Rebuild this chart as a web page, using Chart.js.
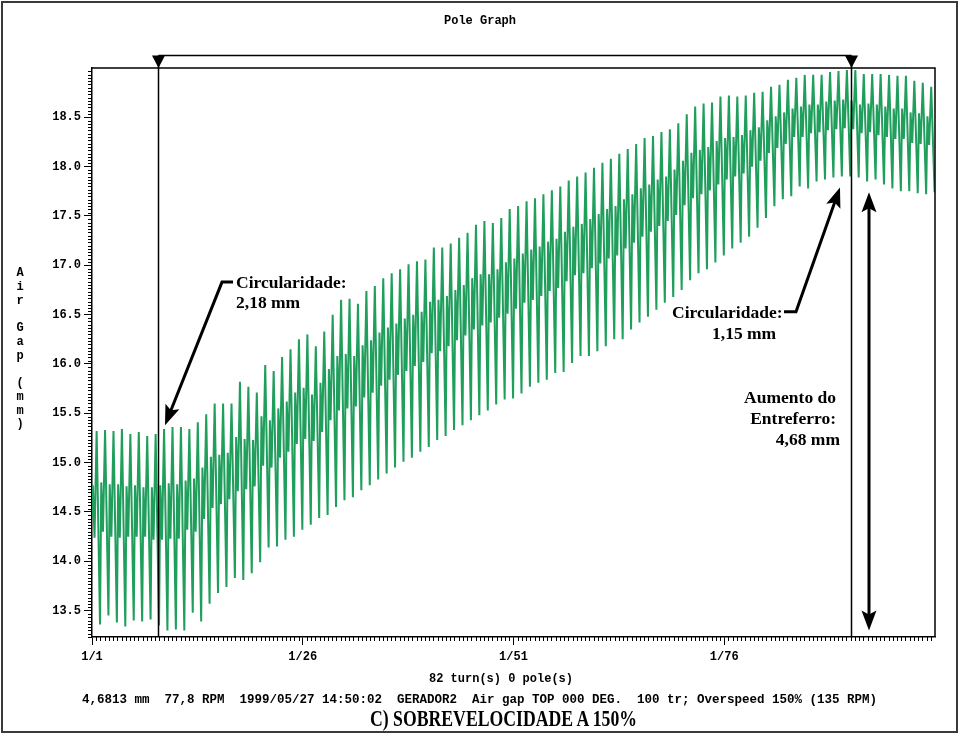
<!DOCTYPE html>
<html><head><meta charset="utf-8">
<script src="https://cdn.jsdelivr.net/npm/chart.js@4.4.1/dist/chart.umd.min.js"></script>
<style>
html,body{margin:0;padding:0;background:#fff;}
#wrap{position:relative;width:960px;height:735px;overflow:hidden;background:#fff;}
#frame{position:absolute;left:1px;top:1px;width:957px;height:732px;box-sizing:border-box;border:2px solid #3a3a3a;pointer-events:none;}
canvas{position:absolute;left:0;top:0;}
.mono{font-family:"Liberation Mono","DejaVu Sans Mono",monospace;font-size:12px;font-weight:bold;color:#000;position:absolute;white-space:pre;line-height:14px;}
.serif{font-family:"Liberation Serif","Times New Roman",serif;font-weight:bold;font-size:17.5px;color:#000;position:absolute;white-space:pre;line-height:21px;}
</style></head>
<body>
<div id="wrap">
<canvas id="c" width="960" height="735"></canvas>
<div id="frame"></div>
<div class="mono" style="left:0;width:960px;text-align:center;top:14px">Pole Graph</div>
<div class="mono" style="left:14px;width:12px;text-align:center;top:267px;line-height:13.75px">A
i
r
 
G
a
p
 
(
m
m
)</div>
<div class="mono" style="left:0;width:1002px;text-align:center;top:672px">82 turn(s) 0 pole(s)</div>
<div class="mono" style="left:0;width:959px;text-align:center;top:693px;font-size:12.5px">4,6813 mm  77,8 RPM  1999/05/27 14:50:02  GERADOR2  Air gap TOP 000 DEG.  100 tr; Overspeed 150% (135 RPM)</div>
<div id="cap" class="serif" style="font-size:23px;left:370px;top:706px;line-height:25px;transform-origin:0 0;display:inline-block">C) SOBREVELOCIDADE A 150%</div>
<div class="serif" style="left:236px;top:272px;line-height:20px">Circularidade:
2,18 mm</div>
<div class="serif" style="left:672px;top:302px">Circularidade:</div>
<div class="serif" style="left:712px;top:323px">1,15 mm</div>
<div class="serif" style="left:636px;width:200px;text-align:right;top:387px">Aumento do
Entreferro:
<span style="margin-right:-4px">4,68 mm</span></div>
</div>
<script>
// ---- data ----
const totalTurns = 100;
const xTickValues = [0, 25, 50, 75];
const xTickLabels = ['1/1', '1/26', '1/51', '1/76'];
const yTickLabels = ['13.5','14.0','14.5','15.0','15.5','16.0','16.5','17.0','17.5','18.0','18.5'];
const startValue = 14.45;
// per-turn maximum (pole spike) in mm
const peaks = [
15.32,15.33,15.32,15.34,15.29,15.31,15.27,15.29,15.34,15.36,
15.36,15.34,15.41,15.49,15.60,15.60,15.60,15.82,15.77,15.71,
15.99,15.93,16.07,16.15,16.25,16.30,16.18,16.33,16.50,16.65,
16.66,16.61,16.74,16.79,16.87,16.92,16.96,17.01,17.04,17.06,
17.18,17.18,17.22,17.28,17.33,17.41,17.45,17.43,17.48,17.57,
17.60,17.65,17.68,17.72,17.76,17.80,17.86,17.90,17.94,17.99,
18.04,18.08,18.13,18.18,18.23,18.29,18.31,18.35,18.38,18.44,
18.53,18.61,18.64,18.65,18.71,18.72,18.71,18.72,18.75,18.76,
18.81,18.83,18.88,18.90,18.93,18.93,18.93,18.96,18.97,18.98,
18.98,18.94,18.94,18.94,18.93,18.92,18.92,18.87,18.85,18.81];
// per-turn minimum in mm
const troughs = [
13.36,13.45,13.38,13.34,13.40,13.39,13.41,13.35,13.30,13.31,
13.30,13.48,13.39,13.57,13.68,13.74,13.83,13.81,13.88,13.99,
14.14,14.15,14.22,14.25,14.32,14.37,14.44,14.47,14.55,14.62,
14.65,14.72,14.77,14.83,14.89,14.95,15.01,15.05,15.11,15.16,
15.23,15.27,15.33,15.38,15.43,15.48,15.53,15.59,15.64,15.65,
15.70,15.77,15.81,15.84,15.91,15.92,16.01,16.08,16.08,16.13,
16.18,16.25,16.25,16.35,16.42,16.48,16.55,16.62,16.68,16.75,
16.85,16.92,16.96,17.03,17.10,17.17,17.23,17.29,17.38,17.48,
17.60,17.67,17.70,17.80,17.78,17.85,17.87,17.89,17.90,17.90,
17.89,17.85,17.87,17.82,17.78,17.75,17.75,17.73,17.72,17.74];
// per-turn upper middle level
const midHigh = [
14.77,14.80,14.78,14.78,14.76,14.77,14.75,14.75,14.77,14.79,
14.78,14.82,14.84,14.95,15.06,15.08,15.10,15.26,15.24,15.23,
15.47,15.43,15.55,15.62,15.71,15.76,15.69,15.81,15.95,16.08,
16.10,16.08,16.19,16.24,16.32,16.37,16.41,16.46,16.50,16.53,
16.63,16.65,16.69,16.75,16.80,16.87,16.91,16.91,16.96,17.03,
17.07,17.12,17.16,17.19,17.24,17.27,17.34,17.39,17.42,17.47,
17.52,17.57,17.60,17.67,17.72,17.78,17.82,17.87,17.90,17.97,
18.06,18.14,18.17,18.20,18.26,18.29,18.30,18.32,18.37,18.40,
18.47,18.51,18.55,18.59,18.61,18.63,18.63,18.66,18.67,18.68,
18.67,18.63,18.64,18.63,18.61,18.59,18.59,18.55,18.54,18.51];
// per-turn lower middle level
const midLow = [
14.24,14.30,14.25,14.24,14.25,14.25,14.25,14.22,14.22,14.23,
14.23,14.32,14.30,14.43,14.54,14.58,14.63,14.71,14.73,14.76,
14.97,14.95,15.05,15.11,15.19,15.24,15.22,15.31,15.43,15.53,
15.55,15.57,15.66,15.71,15.78,15.84,15.89,15.93,15.98,16.02,
16.11,16.13,16.18,16.24,16.29,16.35,16.39,16.42,16.47,16.51,
16.56,16.62,16.65,16.69,16.74,16.77,16.84,16.90,16.92,16.97,
17.02,17.07,17.10,17.17,17.23,17.29,17.34,17.40,17.45,17.51,
17.61,17.68,17.72,17.76,17.82,17.87,17.90,17.93,18.00,18.06,
18.14,18.19,18.23,18.30,18.30,18.34,18.35,18.37,18.38,18.39,
18.38,18.34,18.35,18.32,18.30,18.28,18.28,18.24,18.23,18.22];
// cursor positions (turns)
const cursorTurns = [7.8, 90.0];

// ---- build line points (position of each sample inside its turn) ----
const phase = {midHigh: 0.1, midLow: 0.3, peak: 0.55, trough: 0.95};
const points = [{x: 0, y: startValue}];
for (let k = 0; k < totalTurns; k++) {
  points.push({x: k + phase.midHigh, y: midHigh[k]});
  points.push({x: k + phase.midLow, y: midLow[k]});
  points.push({x: k + phase.peak, y: peaks[k]});
  points.push({x: k + phase.trough, y: troughs[k]});
}

// annotation arrows in data coordinates
const arrows = [
  {pts: [[16.73, 16.83], [15.42, 16.83], [8.66, 15.38]], head: 'end'},
  {pts: [[82.09, 16.53], [83.51, 16.53], [88.73, 17.79]], head: 'end'},
  {pts: [[92.17, 13.30], [92.17, 17.74]], head: 'both'}
];

function arrowHead(ctx, x1, y1, x2, y2, len, w) {
  const a = Math.atan2(y2 - y1, x2 - x1);
  const cos = Math.cos(a), sin = Math.sin(a);
  const bx = x2 - len * cos, by = y2 - len * sin;
  const nx = x2 - len * 0.8 * cos, ny = y2 - len * 0.8 * sin;
  ctx.beginPath();
  ctx.moveTo(x2, y2);
  ctx.lineTo(bx - w / 2 * sin, by + w / 2 * cos);
  ctx.lineTo(nx, ny);
  ctx.lineTo(bx + w / 2 * sin, by - w / 2 * cos);
  ctx.closePath();
  ctx.fill();
}

const overlay = {
  id: 'overlay',
  afterDraw(chart) {
    const {ctx, chartArea: a, scales: {x, y}} = chart;
    ctx.save();
    ctx.strokeStyle = '#000'; ctx.fillStyle = '#000';
    // top and right frame of the plot area
    ctx.lineWidth = 1.5;
    ctx.beginPath();
    ctx.moveTo(a.left, a.top); ctx.lineTo(a.right, a.top); ctx.lineTo(a.right, a.bottom);
    ctx.stroke();
    // minor ticks
    ctx.lineWidth = 1;
    ctx.beginPath();
    for (let i = Math.ceil(y.min * 30); i <= Math.floor(y.max * 30); i++) {
      if (i % 15 === 0) continue;
      const py = Math.round(y.getPixelForValue(i / 30)) + 0.5;
      ctx.moveTo(a.left - 4, py); ctx.lineTo(a.left, py);
    }
    for (let i = 1; i < totalTurns * 2; i++) {
      if (i % 50 === 0) continue;
      const px = Math.round(x.getPixelForValue(i / 2)) + 0.5;
      ctx.moveTo(px, a.bottom); ctx.lineTo(px, a.bottom + 4);
    }
    ctx.stroke();
    // cursors
    const barY = a.top - 12.5;
    const c = cursorTurns.map(t => Math.round(x.getPixelForValue(t)) + 0.5);
    ctx.lineWidth = 1.5;
    ctx.beginPath();
    ctx.moveTo(c[0], barY); ctx.lineTo(c[1], barY);
    c.forEach(px => { ctx.moveTo(px, barY); ctx.lineTo(px, a.bottom); });
    ctx.stroke();
    c.forEach(px => {
      ctx.beginPath();
      ctx.moveTo(px - 6.5, barY); ctx.lineTo(px + 6.5, barY); ctx.lineTo(px, a.top); ctx.closePath();
      ctx.fill();
    });
    // annotation arrows
    ctx.lineWidth = 3;
    ctx.lineJoin = 'miter';
    arrows.forEach(ar => {
      const p = ar.pts.map(q => [x.getPixelForValue(q[0]), y.getPixelForValue(q[1])]);
      const n = p.length;
      const L = 20, W = 15;
      const shrink = (from, to) => {
        const dx = to[0] - from[0], dy = to[1] - from[1], d = Math.hypot(dx, dy);
        return [to[0] - dx / d * L * 0.75, to[1] - dy / d * L * 0.75];
      };
      const line = p.map(q => q.slice());
      line[n - 1] = shrink(p[n - 2], p[n - 1]);
      if (ar.head === 'both') line[0] = shrink(p[1], p[0]);
      ctx.beginPath();
      ctx.moveTo(line[0][0], line[0][1]);
      for (let i = 1; i < n; i++) ctx.lineTo(line[i][0], line[i][1]);
      ctx.stroke();
      arrowHead(ctx, p[n - 2][0], p[n - 2][1], p[n - 1][0], p[n - 1][1], L, W);
      if (ar.head === 'both') arrowHead(ctx, p[1][0], p[1][1], p[0][0], p[0][1], L, W);
    });
    ctx.restore();
  }
};

const monoFont = {family: '"Liberation Mono","DejaVu Sans Mono",monospace', size: 12, weight: 'bold'};

new Chart(document.getElementById('c'), {
  type: 'line',
  data: {
    datasets: [{
      data: points,
      borderColor: '#1f9e5c',
      borderWidth: 2,
      pointRadius: 0,
      tension: 0,
      fill: false
    }]
  },
  options: {
    responsive: false,
    animation: false,
    events: [],
    layout: {padding: {top: 68, right: 25, left: 0, bottom: 0}},
    plugins: {legend: {display: false}, tooltip: {enabled: false}, title: {display: false}},
    scales: {
      x: {
        type: 'linear', min: 0, max: totalTurns,
        afterFit(s) { s.height = 98; },
        border: {color: '#000', width: 1.5},
        grid: {drawOnChartArea: false, tickLength: 8, color: '#000',
               tickColor: (ctx) => (ctx.tick && xTickValues.includes(ctx.tick.value)) ? '#000' : 'rgba(0,0,0,0)'},
        ticks: {stepSize: 25, maxRotation: 0, padding: 5, color: '#000', font: monoFont,
                callback: (v) => { const i = xTickValues.indexOf(v); return i >= 0 ? xTickLabels[i] : ''; }}
      },
      y: {
        type: 'linear', min: 13.233, max: 19.0,
        afterFit(s) { s.width = 92; },
        border: {color: '#000', width: 1.5},
        grid: {drawOnChartArea: false, tickLength: 8, color: '#000',
               tickColor: (ctx) => (ctx.tick && yTickLabels.includes(ctx.tick.value.toFixed(1))) ? '#000' : 'rgba(0,0,0,0)'},
        ticks: {stepSize: 0.5, includeBounds: false, padding: 3, color: '#000', font: monoFont,
                callback: (v) => { const s = Number(v).toFixed(1); return yTickLabels.includes(s) ? s : ''; }}
      }
    }
  },
  plugins: [overlay]
});

// condensed caption width as in the reference
(function () {
  const el = document.getElementById('cap');
  const w = el.getBoundingClientRect().width;
  el.style.transform = 'scaleX(' + (267 / w) + ')';
})();
</script>
</body></html>
